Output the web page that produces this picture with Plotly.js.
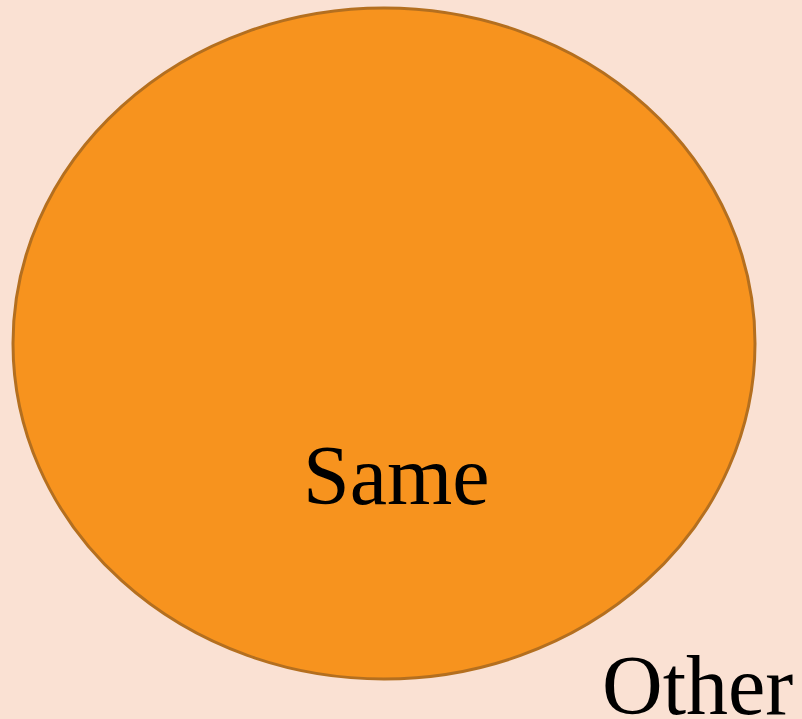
<!DOCTYPE html>
<html><head><meta charset="utf-8">
<script src="https://cdn.plot.ly/plotly-3.0.1.min.js"></script>
<style>html,body{margin:0;padding:0;background:#fae1d3;}</style>
</head><body>
<div id="chart" style="width:802px;height:719px;"></div>
<script>
const categories = ['Same', 'Other'];
const values = [100, 0];

const layout = {
  width: 802, height: 719,
  margin: {l: 0, r: 0, t: 0, b: 0},
  paper_bgcolor: '#fae1d3',
  plot_bgcolor: '#fae1d3',
  showlegend: false,
  xaxis: {range: [0, 802], visible: false, fixedrange: true},
  yaxis: {range: [719, 0], visible: false, fixedrange: true},
  shapes: [{
    type: 'circle', xref: 'x', yref: 'y',
    x0: 13, x1: 755, y0: 8, y1: 679,
    fillcolor: '#f7931e',
    line: {color: '#b46f1f', width: 3},
    layer: 'below'
  }],
  annotations: [
    {text: categories[0], x: 396, y: 475, xref: 'x', yref: 'y', showarrow: false,
     xanchor: 'center', yanchor: 'middle',
     font: {family: 'Liberation Serif', size: 84, color: '#000'}},
    {text: categories[1], x: 697, y: 685, xref: 'x', yref: 'y', showarrow: false,
     xanchor: 'center', yanchor: 'middle',
     font: {family: 'Liberation Serif', size: 84, color: '#000'}}
  ]
};
Plotly.newPlot('chart', [{type: 'scatter', x: [], y: [], mode: 'markers', hoverinfo: 'skip'}], layout, {staticPlot: true, displayModeBar: false});
</script>
</body></html>
